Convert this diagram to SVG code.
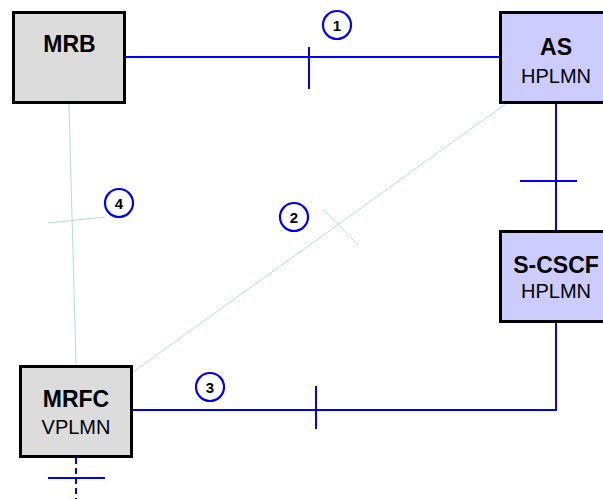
<svg xmlns="http://www.w3.org/2000/svg" width="603" height="499" viewBox="0 0 603 499">
<style>
.box{stroke:#000;stroke-width:3}
.grey{fill:#dcdcdc}
.blue{fill:#ccccff}
.t{font-family:"Liberation Sans",Arial,sans-serif;text-anchor:middle;fill:#000}
.b{font-weight:bold;font-size:23px}
.r{font-size:20px}
.ln{stroke:#0000ff;stroke-width:2;fill:none}
.lc{stroke:#b4dcdc;stroke-width:1;fill:none}
.num circle{fill:#fff;stroke:#0000ff;stroke-width:2.2}
.num text{font-family:"Liberation Sans",Arial,sans-serif;font-weight:bold;font-size:15px;text-anchor:middle;fill:#000}
</style>
<rect width="603" height="499" fill="#fff"/>
<g id="connectors">
<line class="ln" x1="126" y1="57" x2="499" y2="57"/>
<line class="ln" x1="309" y1="47" x2="309" y2="89"/>
<line class="ln" x1="556" y1="103" x2="556" y2="230"/>
<line class="ln" x1="520" y1="181" x2="577" y2="181"/>
<polyline class="ln" points="556,323 556,410 133,410"/>
<line class="ln" x1="316" y1="386" x2="316" y2="429"/>
<line class="ln" x1="76" y1="458" x2="76" y2="499" stroke-dasharray="6,4" stroke-width="2.5"/>
<line class="ln" x1="48" y1="478" x2="105" y2="478"/>
<line class="lc" x1="69" y1="104" x2="76" y2="365"/>
<line class="lc" x1="48" y1="223" x2="105" y2="217"/>
<line class="lc" x1="507" y1="103" x2="133" y2="372"/>
<line class="lc" x1="323" y1="209" x2="358" y2="245"/>
</g>
<g id="num1" class="num"><circle cx="337" cy="25" r="14"/><text x="337" y="30.5">1</text></g>
<g id="num2" class="num"><circle cx="294" cy="217" r="14"/><text x="294" y="222.5">2</text></g>
<g id="num3" class="num"><circle cx="210" cy="387" r="14"/><text x="210" y="392.5">3</text></g>
<g id="num4" class="num"><circle cx="119" cy="203" r="14"/><text x="119" y="208.5">4</text></g>
<g id="MRB">
<rect class="box grey" x="13.5" y="12.5" width="111" height="90"/>
<text class="t b" x="69.5" y="52">MRB</text>
</g>
<g id="AS">
<rect class="box blue" x="500.5" y="12.5" width="111" height="90"/>
<text class="t b" x="556" y="55">AS</text>
<text class="t r" x="556" y="83">HPLMN</text>
</g>
<g id="SCSCF">
<rect class="box blue" x="500.5" y="231.5" width="111" height="90"/>
<text class="t b" x="556" y="273">S-CSCF</text>
<text class="t r" x="556" y="298">HPLMN</text>
</g>
<g id="MRFC">
<rect class="box grey" x="20.5" y="366.5" width="111" height="90"/>
<text class="t b" x="76" y="407">MRFC</text>
<text class="t r" x="76" y="434">VPLMN</text>
</g>
</svg>
